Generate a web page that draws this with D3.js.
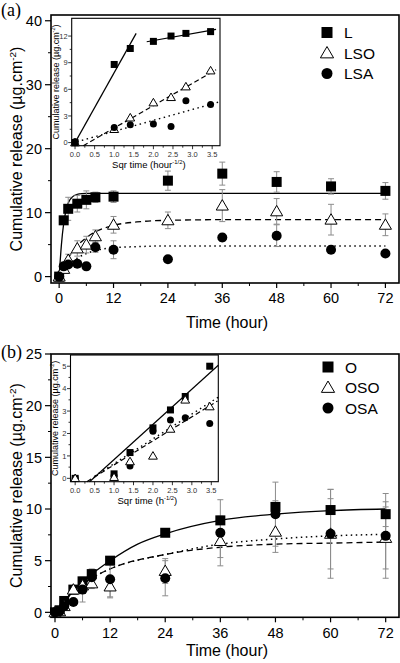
<!DOCTYPE html>
<html><head><meta charset="utf-8">
<script src="https://cdn.jsdelivr.net/npm/d3@7"></script>
<style>body{margin:0;background:#fff}svg{display:block}</style>
</head><body><svg id="c" width="400" height="663" font-family="'Liberation Sans', Arial, sans-serif"></svg>
<script>
// ---------- data ----------
const timeH = [0, 1, 2, 4, 6, 8, 12, 24, 36, 48, 60, 72];
const xTicksMain = [0, 12, 24, 36, 48, 60, 72];

// panel (a)
const L      = [0, 8.8, 10.6, 11.4, 12.0, 12.4, 12.5, 15.0, 16.1, 14.8, 14.1, 13.4];
const L_err  = [0, 0.4, 1.8, 1.3, 1.4, 0.8, 0.9, 1.5, 1.8, 1.6, 1.2, 1.3];
const LSO    = [0, 1.2, 2.6, 4.4, 5.0, 6.3, 8.1, 8.8, 11.1, 10.2, 8.9, 8.1];
const LSO_err= [0, 0.4, 0.9, 1.2, 1.3, 1.0, 1.3, 1.3, 2.5, 2.0, 2.4, 1.7];
const LSA    = [0, 1.6, 1.9, 2.0, 1.6, 4.6, 4.2, 2.7, 6.1, 6.4, 4.2, 3.6];
const LSA_err= [0, 0.3, 0.4, 0.5, 0.5, 0.8, 1.4, 0.4, 0.6, 1.7, 0.6, 0.5];
const fitL_t   = [0, 0.5, 1, 1.5, 2, 3, 4, 5, 6, 8, 72];
const fitL_y   = [0, 5.0, 8.3, 10.3, 11.5, 12.5, 12.85, 12.97, 13.0, 13.0, 13.0];
const fitLSO_t = [0, 1, 2, 4, 6, 8, 12, 18, 24, 36, 72];
const fitLSO_y = [0, 1.5, 2.9, 4.8, 6.1, 7.0, 8.0, 8.6, 8.8, 8.9, 8.9];
const fitLSA_t = [0, 2, 4, 6, 8, 12, 18, 24, 72];
const fitLSA_y = [0, 1.8, 2.9, 3.6, 4.1, 4.5, 4.7, 4.8, 4.8];

// panel (b)
const O      = [0, 0.2, 1.1, 2.2, 3.0, 3.7, 5.0, 7.7, 8.9, 10.2, 9.9, 9.5];
const O_err  = [0, 0.1, 0.2, 0.3, 0.3, 0.4, 0.2, 0.3, 0.4, 0.6, 2.0, 1.2];
const OSO    = [0, 0.1, 0.6, 2.2, 2.6, 2.8, 2.5, 4.0, 6.9, 7.8, 7.6, 7.2];
const OSO_err= [0, 0.1, 0.3, 0.3, 0.4, 0.5, 1.0, 1.2, 1.6, 2.0, 3.4, 3.0];
const OSA    = [0, 0.1, 0.6, 1.0, 2.2, 3.4, 3.2, 3.3, 7.7, 9.5, 7.6, 7.4];
const OSA_err= [0, 0.1, 0.2, 0.3, 1.2, 0.8, 1.8, 1.7, 3.2, 3.1, 4.3, 4.1];
const fitO_t   = [0, 4, 8, 12, 18, 24, 36, 48, 60, 72];
const fitO_y   = [0, 2.1, 3.7, 5.0, 6.6, 7.6, 8.9, 9.5, 9.85, 10.0];
const fitOSO_t = [0, 4, 8, 12, 24, 36, 48, 60, 72];
const fitOSO_y = [0, 2.0, 3.3, 4.2, 5.6, 6.3, 6.6, 6.7, 6.8];
const fitOSA_t = [0, 4, 8, 12, 24, 36, 48, 60, 72];
const fitOSA_y = [0, 2.0, 3.3, 4.2, 5.6, 6.6, 7.1, 7.4, 7.55];

// insets (square-root time)
const sqrtT = [0, 1, 1.41, 2, 2.45, 2.83, 3.46];
const inL   = [0, 8.8, 10.6, 11.4, 12.0, 12.3, 12.5];
const inLSO = [0, 1.5, 2.8, 4.5, 5.1, 6.3, 8.1];
const inLSA = [0.1, 1.7, 2.0, 2.1, 1.8, 4.7, 4.3];
const inLfit1_x = [0, 1.56],   inLfit1_y = [0, 12.3];
const inLfit2_x = [1.83, 3.6], inLfit2_y = [11.36, 12.75];
const inLSOfit_x = [0.21, 3.6], inLSOfit_y = [-0.35, 8.2];
const inLSAfit_x = [0.05, 3.7], inLSAfit_y = [0.1, 4.6];

const inO   = [0, 0.2, 1.15, 2.25, 3.05, 3.65, 5.0];
const inOSO = [0, 0.05, 0.75, 1.0, 2.2, 3.5, 3.2];
const inOSA = [0, 0.1, 0.55, 2.1, 2.6, 2.7, 2.45];
const inOfit_x = [0.37, 3.68], inOfit_y = [-0.15, 5.04];
const inOSOfit_x = [0.3, 3.66], inOSOfit_y = [-0.15, 3.45];
const inOSAfit_x = [0.5, 3.68], inOSAfit_y = [0.1, 3.62];

const inXTicks = [0, 0.5, 1, 1.5, 2, 2.5, 3, 3.5];
const inYTicksA = [0, 3, 6, 9, 12];
const inYTicksB = [0, 1, 2, 3, 4, 5];

// ---------- drawing ----------
const svg = d3.select("#c");
const grey = "#8c8c8c";

function marker(g, shape, x, y, s) {
  if (shape === "sq") {
    g.append("rect").attr("x", x - s/2).attr("y", y - s/2).attr("width", s).attr("height", s).attr("fill", "#000");
  } else if (shape === "tri") {
    const h = s * 0.9;
    g.append("path").attr("d", `M${x},${y - h*0.6}L${x + s*0.55},${y + h*0.45}L${x - s*0.55},${y + h*0.45}Z`)
      .attr("fill", "#fff").attr("stroke", "#000").attr("stroke-width", 1);
  } else {
    g.append("circle").attr("cx", x).attr("cy", y).attr("r", s/2).attr("fill", "#000");
  }
}

function sup(t, base, supTxt, after, fs) {
  t.append("tspan").text(base);
  t.append("tspan").attr("dy", -fs*0.38).attr("font-size", fs*0.62).text(supTxt);
  t.append("tspan").attr("dy", fs*0.38).text(after);
}

function drawAxes(g, x, y, xTicks, xMinor, yTicks, yMinor, box, fs, xLabOff) {
  const [l, r, t, b] = box;
  const ax = g.append("g");
  xMinor.forEach(v => ax.append("line").attr("x1", x(v)).attr("x2", x(v)).attr("y1", b).attr("y2", b + 3).attr("stroke", "#000").attr("stroke-width", 1));
  xTicks.forEach(v => {
    ax.append("line").attr("x1", x(v)).attr("x2", x(v)).attr("y1", b).attr("y2", b + 5).attr("stroke", "#000").attr("stroke-width", 1.2);
    ax.append("text").attr("x", x(v)).attr("y", b + xLabOff).attr("text-anchor", "middle").attr("font-size", fs).text(v);
  });
  yMinor.forEach(v => ax.append("line").attr("x1", l).attr("x2", l - 3).attr("y1", y(v)).attr("y2", y(v)).attr("stroke", "#000").attr("stroke-width", 1));
  yTicks.forEach(v => {
    ax.append("line").attr("x1", l).attr("x2", l - 6).attr("y1", y(v)).attr("y2", y(v)).attr("stroke", "#000").attr("stroke-width", 1.2);
    ax.append("text").attr("x", l - 9).attr("y", y(v) + fs*0.36).attr("text-anchor", "end").attr("font-size", fs).text(v);
  });
  g.append("rect").attr("x", l).attr("y", t).attr("width", r - l).attr("height", b - t)
    .attr("fill", "none").attr("stroke", "#000").attr("stroke-width", 1.6);
}

function panel(cfg) {
  const g = svg.append("g");
  const [l, r, t, b] = cfg.box;
  const x = d3.scaleLinear().domain(cfg.xDom).range([l, r]);
  const y = d3.scaleLinear().domain(cfg.yDom).range([b, t]);
  drawAxes(g, x, y, xTicksMain, [6, 18, 30, 42, 54, 66], cfg.yTicks, cfg.yMinor, cfg.box, 14.5, cfg.xLabOff);

  g.append("text").attr("x", (l + r) / 2 + 2).attr("y", b + cfg.titleOff).attr("text-anchor", "middle").attr("font-size", 16).text("Time (hour)");
  const yt = g.append("text").attr("transform", `translate(22,${(t + b) / 2}) rotate(-90)`).attr("text-anchor", "middle").attr("font-size", 16);
  sup(yt, "Cumulative release (\u00b5g.cm", "-2", ")", 16);

  g.append("text").attr("x", 1).attr("y", cfg.letterY).attr("font-family", "'Liberation Serif','Times New Roman',serif").attr("font-size", 18).text(cfg.letter);

  const line = d3.line().x(d => x(d[0])).y(d => y(d[1])).curve(d3.curveMonotoneX);
  const styles = ["none", "6,4", "1.5,3.5"];
  cfg.fits.forEach((f, i) => {
    g.append("path").attr("d", line(f[0].map((tt, k) => [tt, f[1][k]])))
      .attr("fill", "none").attr("stroke", "#000").attr("stroke-width", i === 2 ? 1.5 : 1.3).attr("stroke-dasharray", styles[i]);
  });

  cfg.series.forEach(s => {
    timeH.forEach((tt, k) => {
      const e = s.err[k];
      if (!e) return;
      const cx = x(tt), y1 = y(s.v[k] - e), y2 = y(s.v[k] + e);
      g.append("line").attr("x1", cx).attr("x2", cx).attr("y1", y1).attr("y2", y2).attr("stroke", grey).attr("stroke-width", 1);
      [y1, y2].forEach(yy => g.append("line").attr("x1", cx - 3).attr("x2", cx + 3).attr("y1", yy).attr("y2", yy).attr("stroke", grey).attr("stroke-width", 1));
    });
  });
  cfg.series.forEach(s => {
    timeH.forEach((tt, k) => marker(g, s.shape, x(tt), y(s.v[k]), s.shape === "tri" ? 11 : 10));
  });

  cfg.series.forEach((s, i) => {
    marker(g, s.shape, cfg.legX, cfg.legY + i * 20.5, s.shape === "tri" ? 12 : 11);
    g.append("text").attr("x", cfg.legX + 17).attr("y", cfg.legY + i * 20.5 + 5.5).attr("font-size", 15.5).text(s.name);
  });

  // inset
  const ib = cfg.inBox;
  const ig = g.append("g");
  ig.append("rect").attr("x", ib[0]).attr("y", ib[2]).attr("width", ib[1] - ib[0]).attr("height", ib[3] - ib[2]).attr("fill", "#fff");
  const ix = d3.scaleLinear().domain(cfg.inXDom).range([ib[0], ib[1]]);
  const iy = d3.scaleLinear().domain(cfg.inYDom).range([ib[3], ib[2]]);
  const ia = ig.append("g").attr("fill", "#333");
  [0.25, 0.75, 1.25, 1.75, 2.25, 2.75, 3.25].forEach(v => ia.append("line").attr("x1", ix(v)).attr("x2", ix(v)).attr("y1", ib[3]).attr("y2", ib[3] + 2).attr("stroke", "#000").attr("stroke-width", 0.8));
  inXTicks.forEach(v => {
    ia.append("line").attr("x1", ix(v)).attr("x2", ix(v)).attr("y1", ib[3]).attr("y2", ib[3] + 3.5).attr("stroke", "#000").attr("stroke-width", 0.8);
    ia.append("text").attr("x", ix(v)).attr("y", ib[3] + 11).attr("text-anchor", "middle").attr("font-size", 7.5).text(v.toFixed(1));
  });
  cfg.inYMinor.forEach(v => ia.append("line").attr("x1", ib[0]).attr("x2", ib[0] - 2).attr("y1", iy(v)).attr("y2", iy(v)).attr("stroke", "#000").attr("stroke-width", 0.8));
  cfg.inYTicks.forEach(v => {
    ia.append("line").attr("x1", ib[0]).attr("x2", ib[0] - 3.5).attr("y1", iy(v)).attr("y2", iy(v)).attr("stroke", "#000").attr("stroke-width", 0.8);
    ia.append("text").attr("x", ib[0] - 4).attr("y", iy(v) + 2.7).attr("text-anchor", "end").attr("font-size", 7.5).text(v);
  });
  ig.append("rect").attr("x", ib[0]).attr("y", ib[2]).attr("width", ib[1] - ib[0]).attr("height", ib[3] - ib[2])
    .attr("fill", "none").attr("stroke", "#000").attr("stroke-width", 1.1);
  const ixl = ig.append("text").attr("x", (ib[0] + ib[1]) / 2 + 3).attr("y", ib[3] + 22).attr("text-anchor", "middle").attr("font-size", 9.5);
  sup(ixl, cfg.inXLabel, "-1/2", ")", 9.5);
  const iyl = ig.append("text").attr("transform", `translate(${ib[0] - 13},${(ib[2] + ib[3]) / 2}) rotate(-90)`).attr("text-anchor", "middle").attr("font-size", 9);
  sup(iyl, "Cumulative release (\u00b5g.cm", "-2", ")", 9);

  const iline = d3.line().x(d => ix(d[0])).y(d => iy(d[1]));
  cfg.inFits.forEach(f => {
    ig.append("path").attr("d", iline(f.x.map((v, k) => [v, f.y[k]]))).attr("fill", "none").attr("stroke", "#000")
      .attr("stroke-width", f.dash === "1.5,3.5" ? 1.4 : 1.2).attr("stroke-dasharray", f.dash);
  });
  cfg.inSeries.forEach(s => {
    sqrtT.forEach((v, k) => marker(ig, s.shape, ix(v), iy(s.v[k]), s.shape === "tri" ? 8 : 7));
  });
}

panel({
  box: [51, 399, 15, 283], xDom: [-1.8, 75], yDom: [-1, 40.9],
  yTicks: [0, 10, 20, 30, 40], yMinor: [5, 15, 25, 35],
  letter: "(a)", letterY: 16, xLabOff: 20, titleOff: 45,
  fits: [[fitL_t, fitL_y], [fitLSO_t, fitLSO_y], [fitLSA_t, fitLSA_y]],
  series: [
    {name: "L", shape: "sq", v: L, err: L_err},
    {name: "LSO", shape: "tri", v: LSO, err: LSO_err},
    {name: "LSA", shape: "circ", v: LSA, err: LSA_err}
  ],
  legX: 327, legY: 32.5,
  inBox: [71.7, 220, 18.3, 145.7], inXDom: [-0.085, 3.7], inYDom: [-0.35, 14],
  inYTicks: inYTicksA, inYMinor: [1.5, 4.5, 7.5, 10.5],
  inXLabel: "Sqr time (hour",
  inFits: [
    {x: inLfit1_x, y: inLfit1_y, dash: "none"},
    {x: inLfit2_x, y: inLfit2_y, dash: "none"},
    {x: inLSOfit_x, y: inLSOfit_y, dash: "5,3"},
    {x: inLSAfit_x, y: inLSAfit_y, dash: "1.5,3.5"}
  ],
  inSeries: [
    {shape: "tri", v: inLSO}, {shape: "circ", v: inLSA}, {shape: "sq", v: inL}
  ]
});

panel({
  box: [51, 399, 354, 617.3], xDom: [-0.87, 74.9], yDom: [-0.48, 25],
  yTicks: [0, 5, 10, 15, 20, 25], yMinor: [2.5, 7.5, 12.5, 17.5, 22.5],
  letter: "(b)", letterY: 358, xLabOff: 21, titleOff: 39,
  fits: [[fitO_t, fitO_y], [fitOSO_t, fitOSO_y], [fitOSA_t, fitOSA_y]],
  series: [
    {name: "O", shape: "sq", v: O, err: O_err},
    {name: "OSO", shape: "tri", v: OSO, err: OSO_err},
    {name: "OSA", shape: "circ", v: OSA, err: OSA_err}
  ],
  legX: 328, legY: 367,
  inBox: [70.5, 218.3, 355, 481.7], inXDom: [-0.12, 3.68], inYDom: [-0.15, 5.5],
  inYTicks: inYTicksB, inYMinor: [0.5, 1.5, 2.5, 3.5, 4.5],
  inXLabel: "Sqr time (h",
  inFits: [
    {x: inOfit_x, y: inOfit_y, dash: "none"},
    {x: inOSOfit_x, y: inOSOfit_y, dash: "5,3"},
    {x: inOSAfit_x, y: inOSAfit_y, dash: "1.5,3.5"}
  ],
  inSeries: [
    {shape: "circ", v: inOSA}, {shape: "sq", v: inO}, {shape: "tri", v: inOSO}
  ]
});
</script></body></html>
